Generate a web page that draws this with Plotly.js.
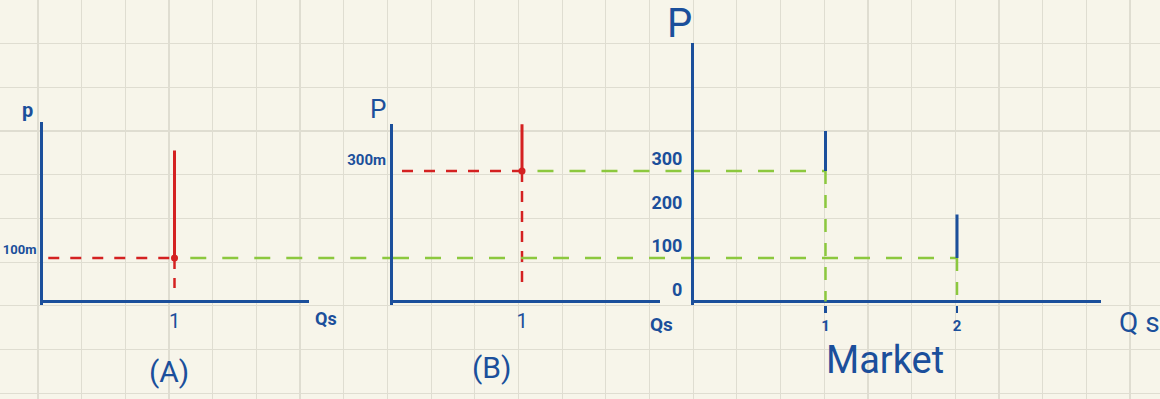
<!DOCTYPE html>
<html>
<head>
<meta charset="utf-8">
<script src="https://cdn.plot.ly/plotly-3.0.1.min.js"></script>
<style>
  html, body { margin: 0; padding: 0; background: #f7f5ea; }
  #chart { width: 1160px; height: 399px; }
</style>
</head>
<body>
<div id="chart"></div>
<script>
// ---------------- data ----------------
const firmLabels   = ['(A)', '(B)'];
const firmQ        = [1, 1];          // quantity supplied by each firm
const firmP        = [100, 300];      // price (m) at which each firm supplies
const firmSupplyTop = [347, 500];     // top of each drawn vertical supply line
const firmDashBottom = [31, 26];      // lower end of red dashed drop line
const firmDashStart = [0.04, 0.07];   // left end of red dashed price line
const greenStart   = 1.12;            // green guide starts just right of the dot
const firmTickText = ['100m', '300m'];

const marketQ      = [1, 2];          // market quantity steps
const marketP      = [300, 100];      // market price steps
const marketSupplyTop = [392, 200];   // top of the short vertical supply strokes
const marketTicks  = [0, 100, 200, 300];
const marketQTicks = [1, 2];

// ---------------- geometry (pixels) ----------------
const W = 1160, H = 399;
const BLUE = '#1b4f9b', RED = '#d42121', GREEN = '#8cc83e';
const P0PX = 301.5, PPX = 0.435, DOMBOT = 304.5;
const FONT = 'Roboto, "Liberation Sans", sans-serif';

const panels = [
  {axisX: 43,  right: 393,  unit: 131.5, top: 122,  xEnd: 309},
  {axisX: 393, right: 694,  unit: 129,   top: 124.3, xEnd: 660},
  {axisX: 694, right: 1103, unit: 131.5, top: 43.3, xEnd: 1101}
];
const fx = px => px / W;
const fy = py => 1 - py / H;
panels.forEach(p => {
  p.xmax = (p.right - p.axisX) / p.unit;
  p.xAxisEnd = (p.xEnd - p.axisX) / p.unit;
  p.ymin = (P0PX - DOMBOT) / PPX;
  p.ymax = (P0PX - p.top) / PPX;
});

const traces = [];
// grid-paper subplot (empty)
traces.push({x: [], y: [], xaxis: 'x', yaxis: 'y', showlegend: false});

function line(xs, ys, ax, color, width, dash) {
  return {x: xs, y: ys, xaxis: 'x' + ax, yaxis: 'y' + ax, mode: 'lines',
          line: {color: color, width: width, dash: dash || 'solid'},
          showlegend: false, hoverinfo: 'skip'};
}

// firm panels
for (let i = 0; i < 2; i++) {
  const ax = i + 2, p = panels[i];
  traces.push(line([0, p.xAxisEnd], [0, 0], ax, BLUE, 3));
  traces.push(line([firmDashStart[i], firmQ[i]], [firmP[i], firmP[i]], ax, RED, 2.5, '11px,11px'));
  traces.push(line([firmQ[i], firmQ[i]], [firmP[i], firmDashBottom[i]], ax, RED, 2.5, '11px,9px'));
  traces.push(line([firmQ[i], firmQ[i]], [firmP[i], firmSupplyTop[i]], ax, RED, 3));
  traces.push({x: [firmQ[i]], y: [firmP[i]], xaxis: 'x' + ax, yaxis: 'y' + ax, mode: 'markers',
               marker: {color: RED, size: 7}, showlegend: false, hoverinfo: 'skip'});
}
// green guides through the firm panels
traces.push(line([greenStart, panels[0].xmax], [firmP[0], firmP[0]], 2, GREEN, 2.5, '16px,16px'));
traces.push(line([0, panels[1].xmax], [firmP[0], firmP[0]], 3, GREEN, 2.5, '16px,16px'));
traces.push(line([greenStart, panels[1].xmax], [firmP[1], firmP[1]], 3, GREEN, 2.5, '16px,16px'));

// market panel
const pm = panels[2];
traces.push(line([0, pm.xAxisEnd], [0, 0], 4, BLUE, 3));
for (let k = 0; k < marketQ.length; k++) {
  traces.push(line([0, marketQ[k]], [marketP[k], marketP[k]], 4, GREEN, 2.5, '16px,16px'));
  traces.push(line([marketQ[k], marketQ[k]], [marketP[k], 0], 4, GREEN, 2.5, '13px,11px'));
  traces.push(line([marketQ[k], marketQ[k]], [marketP[k], marketSupplyTop[k]], 4, BLUE, 3));
}

const gridAxis = {showgrid: true, gridcolor: '#dfddd1', gridwidth: 1.2, zeroline: false,
                  showticklabels: false, ticks: '', showline: false, fixedrange: true};

const layout = {
  width: W, height: H,
  margin: {l: 0, r: 0, t: 0, b: 0, pad: 0},
  paper_bgcolor: '#f7f5ea', plot_bgcolor: 'rgba(0,0,0,0)',
  showlegend: false, hovermode: false,
  font: {family: FONT, color: BLUE},
  xaxis: Object.assign({domain: [0, 1], range: [0, W], tick0: 38, dtick: 43.68, anchor: 'y'}, gridAxis),
  yaxis: Object.assign({domain: [0, 1], range: [H, 0], tick0: 43.4, dtick: 43.75, anchor: 'x'}, gridAxis),
  annotations: [],
  shapes: []
};

for (let i = 0; i < 3; i++) {
  const p = panels[i], ax = i + 2;
  const isMarket = i === 2;
  layout['xaxis' + ax] = {
    domain: [fx(p.axisX), fx(p.right)], range: [0, p.xmax], anchor: 'y' + ax,
    showgrid: false, zeroline: false, showline: false,
    tickmode: 'array',
    tickvals: isMarket ? marketQTicks : [firmQ[i]],
    ticktext: isMarket ? marketQTicks.map(String) : [String(firmQ[i])],
    ticks: isMarket ? 'outside' : '', ticklen: 7, tickwidth: 2.5, tickcolor: BLUE,
    tickfont: {size: isMarket ? 15 : 20, color: BLUE, family: FONT, weight: isMarket ? 'bold' : 'normal'},
    ticklabelstandoff: isMarket ? 0 : 2,
    fixedrange: true
  };
  layout['yaxis' + ax] = {
    domain: [fy(DOMBOT), fy(p.top)], range: [p.ymin, p.ymax], anchor: 'x' + ax,
    showgrid: false, zeroline: false, showline: true, linecolor: BLUE, linewidth: 3,
    tickmode: 'array',
    tickvals: isMarket ? marketTicks : [firmP[i]],
    ticktext: isMarket ? marketTicks.map(String) : [firmTickText[i]],
    ticks: '', tickfont: {size: isMarket ? 18 : (i === 0 ? 13 : 15), color: BLUE, family: FONT, weight: 'bold'},
    ticklabelstandoff: isMarket ? 5 : 1,
    ticklabelshift: isMarket ? -12 : (i === 0 ? -9 : -11),
    fixedrange: true
  };
}

// text labels (pixel positions from the sketch)
const labels = [
  {t: 'p',      x: 27,   y: 110, s: 20, w: 'bold'},
  {t: 'Qs',     x: 326,  y: 318, s: 18, w: 'bold'},
  {t: firmLabels[0], x: 169, y: 371, s: 30, w: 'normal'},
  {t: 'P',      x: 378,  y: 109, s: 26, w: 'normal'},
  {t: 'Qs',     x: 661,  y: 324, s: 19, w: 'bold'},
  {t: firmLabels[1], x: 491, y: 367, s: 30, w: 'normal'},
  {t: 'P',      x: 679,  y: 23,  s: 40, w: 'normal'},
  {t: 'Q s',    x: 1139, y: 322, s: 28, w: 'normal'},
  {t: 'Market', x: 885,  y: 360, s: 38, w: 'normal'}
];
labels.forEach(l => layout.annotations.push({
  text: l.t, xref: 'paper', yref: 'paper', x: fx(l.x), y: fy(l.y),
  xanchor: 'center', yanchor: 'middle', showarrow: false,
  font: {size: l.s, color: BLUE, family: FONT, weight: l.w}
}));

Plotly.newPlot('chart', traces, layout, {staticPlot: true, displayModeBar: false});
</script>
</body>
</html>
